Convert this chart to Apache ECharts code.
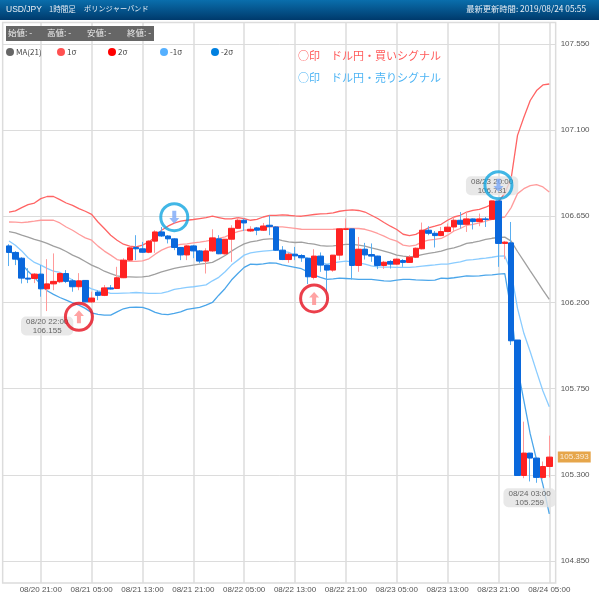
<!DOCTYPE html>
<html><head><meta charset="utf-8">
<style>html,body{margin:0;padding:0;background:#fff}#c{width:599px;height:595px}</style>
<script src="https://cdn.jsdelivr.net/npm/echarts@6/dist/echarts.min.js"></script>
</head><body><div id="c"></div>
<script>
const times=['08/20 16:00','08/20 17:00','08/20 18:00','08/20 19:00','08/20 20:00','08/20 21:00','08/20 22:00','08/20 23:00',
'08/21 00:00','08/21 01:00','08/21 02:00','08/21 03:00','08/21 04:00','08/21 05:00','08/21 06:00','08/21 07:00','08/21 08:00','08/21 09:00','08/21 10:00','08/21 11:00','08/21 12:00','08/21 13:00','08/21 14:00','08/21 15:00','08/21 16:00','08/21 17:00','08/21 18:00','08/21 19:00','08/21 20:00','08/21 21:00','08/21 22:00','08/21 23:00',
'08/22 00:00','08/22 01:00','08/22 02:00','08/22 03:00','08/22 04:00','08/22 05:00','08/22 06:00','08/22 07:00','08/22 08:00','08/22 09:00','08/22 10:00','08/22 11:00','08/22 12:00','08/22 13:00','08/22 14:00','08/22 15:00','08/22 16:00','08/22 17:00','08/22 18:00','08/22 19:00','08/22 20:00','08/22 21:00','08/22 22:00','08/22 23:00',
'08/23 00:00','08/23 01:00','08/23 02:00','08/23 03:00','08/23 04:00','08/23 05:00','08/23 06:00','08/23 07:00','08/23 08:00','08/23 09:00','08/23 10:00','08/23 11:00','08/23 12:00','08/23 13:00','08/23 14:00','08/23 15:00','08/23 16:00','08/23 17:00','08/23 18:00','08/23 19:00','08/23 20:00','08/23 21:00','08/23 22:00','08/23 23:00',
'08/24 00:00','08/24 01:00','08/24 02:00','08/24 03:00','08/24 04:00','08/24 05:00'];
const opens=[106.495,106.461,106.431,106.327,106.325,106.348,106.271,106.297,106.308,106.351,106.313,106.282,106.315,106.203,106.254,106.237,106.276,106.273,106.329,106.421,106.487,106.480,106.462,106.520,106.568,106.547,106.532,106.487,106.448,106.495,106.469,106.416,106.469,106.532,106.454,106.530,106.587,106.629,106.573,106.589,106.577,106.603,106.594,106.473,106.424,106.452,106.445,106.431,106.331,106.442,106.395,106.369,106.447,106.581,106.584,106.393,106.478,106.450,106.442,106.393,106.414,106.400,106.419,106.409,106.436,106.480,106.577,106.561,106.549,106.570,106.594,106.629,106.608,106.636,106.622,106.636,106.634,106.730,106.508,106.511,106.004,105.297,105.414,105.388,105.287,105.344];
const closes=[106.461,106.426,106.327,106.322,106.348,106.271,106.297,106.310,106.351,106.310,106.282,106.313,106.203,106.223,106.237,106.276,106.270,106.329,106.421,106.485,106.480,106.462,106.520,106.568,106.547,106.532,106.487,106.448,106.495,106.469,106.416,106.469,106.537,106.454,106.530,106.587,106.629,106.615,106.582,106.577,106.599,106.596,106.473,106.424,106.452,106.443,106.433,106.334,106.442,106.395,106.369,106.447,106.584,106.584,106.393,106.478,106.448,106.442,106.393,106.410,106.400,106.426,106.409,106.436,106.483,106.577,106.561,106.549,106.570,106.593,106.629,106.608,106.636,106.622,106.636,106.633,106.730,106.508,106.515,106.000,105.297,105.414,105.388,105.287,105.344,105.393];
const highs=[106.504,106.468,106.436,106.379,106.353,106.395,106.426,106.456,106.358,106.369,106.322,106.353,106.317,106.256,106.264,106.291,106.291,106.386,106.431,106.490,106.551,106.516,106.525,106.577,106.594,106.551,106.535,106.489,106.499,106.499,106.473,106.483,106.582,106.551,106.530,106.603,106.643,106.638,106.598,106.594,106.615,106.655,106.598,106.494,106.459,106.490,106.452,106.433,106.478,106.461,106.396,106.447,106.587,106.638,106.585,106.542,106.511,106.508,106.444,106.417,106.421,106.430,106.426,106.447,106.487,106.617,106.598,106.573,106.594,106.612,106.643,106.672,106.672,106.638,106.664,106.646,106.731,106.731,106.521,106.620,106.004,105.578,105.415,105.389,105.370,105.505];
const lows=[106.390,106.395,106.299,106.301,106.301,106.230,106.155,106.264,106.301,106.301,106.256,106.264,106.202,106.197,106.212,106.233,106.268,106.270,106.327,106.417,106.421,106.459,106.457,106.459,106.542,106.508,106.473,106.421,106.421,106.431,106.405,106.351,106.464,106.452,106.450,106.412,106.586,106.573,106.568,106.551,106.573,106.551,106.469,106.421,106.407,106.421,106.412,106.296,106.320,106.360,106.256,106.360,106.421,106.577,106.320,106.360,106.424,106.412,106.374,106.375,106.377,106.396,106.386,106.407,106.433,106.477,106.551,106.487,106.546,106.567,106.568,106.586,106.568,106.581,106.598,106.594,106.633,106.386,106.426,105.978,105.295,105.283,105.266,105.259,105.280,105.287];
const ma21=[106.570,106.563,106.551,106.541,106.529,106.520,106.508,106.494,106.482,106.466,106.447,106.433,106.414,106.395,106.381,106.363,106.351,106.339,106.334,106.334,106.332,106.334,106.337,106.348,106.360,106.369,106.378,106.384,106.390,106.395,106.400,106.404,106.409,106.426,106.445,106.468,106.488,106.506,106.516,106.521,106.529,106.532,106.532,106.523,106.516,106.513,106.515,106.508,106.504,106.497,106.494,106.495,106.499,106.503,106.503,106.499,106.494,106.485,106.477,106.468,106.459,106.447,106.442,106.438,106.442,106.450,106.456,106.461,106.468,106.478,106.485,106.495,106.508,106.513,106.520,106.529,106.535,106.539,106.541,106.520,106.466,106.416,106.365,106.315,106.264,106.216];
const plus1=[106.620,106.619,106.617,106.620,106.624,106.629,106.629,106.629,106.615,106.594,106.577,106.556,106.537,106.525,106.494,106.468,106.447,106.424,106.417,106.414,106.414,106.417,106.428,106.452,106.473,106.487,106.495,106.503,106.506,106.511,106.515,106.520,106.527,106.534,106.542,106.558,106.570,106.577,106.577,106.582,106.591,106.594,106.594,106.594,106.591,106.587,106.582,106.581,106.581,106.581,106.581,106.582,106.584,106.586,106.586,106.586,106.582,106.572,106.560,106.546,106.530,106.520,106.499,106.494,106.499,106.516,106.525,106.529,106.534,106.551,106.573,106.586,106.603,106.608,106.615,106.624,106.634,106.640,106.646,106.695,106.768,106.794,106.810,106.815,106.803,106.777];
const plus2=[106.672,106.678,106.695,106.711,106.719,106.742,106.753,106.753,106.737,106.719,106.707,106.690,106.676,106.660,106.620,106.586,106.551,106.525,106.504,106.494,106.490,106.499,106.516,106.542,106.577,106.598,106.614,106.624,106.629,106.633,106.638,106.643,106.650,106.643,106.636,106.636,106.643,106.638,106.629,106.634,106.646,106.654,106.654,106.657,106.655,106.652,106.650,106.655,106.659,106.662,106.664,106.667,106.676,106.681,106.683,106.680,106.672,106.655,106.638,106.617,106.598,106.581,106.556,106.549,106.555,106.573,106.589,106.598,106.608,106.629,106.646,106.655,106.672,106.681,106.686,106.697,106.713,106.725,106.770,106.848,107.072,107.167,107.254,107.306,107.335,107.340];
const minus1=[106.521,106.499,106.469,106.433,106.409,106.395,106.378,106.363,106.357,106.337,106.317,106.302,106.287,106.271,106.261,106.256,106.247,106.247,106.249,106.250,106.252,106.250,106.247,106.247,106.249,106.256,106.268,106.273,106.279,106.282,106.287,106.292,106.313,106.331,106.360,106.395,106.421,106.447,106.459,106.464,106.468,106.471,106.473,106.468,106.461,106.447,106.443,106.430,106.417,106.409,106.400,106.407,106.412,106.416,106.412,106.407,106.400,106.391,106.386,106.384,106.384,106.383,106.383,106.383,106.386,106.390,106.393,106.396,106.400,106.400,106.407,106.412,106.421,106.424,106.428,106.431,106.436,106.442,106.443,106.360,106.169,106.039,105.943,105.839,105.738,105.656];
const minus2=[106.477,106.438,106.400,106.363,106.331,106.294,106.261,106.242,106.226,106.212,106.198,106.186,106.169,106.146,106.138,106.134,106.134,106.151,106.167,106.174,106.176,106.174,106.164,106.148,106.139,106.136,106.143,106.151,106.164,106.169,106.174,106.186,106.200,106.238,106.273,106.317,106.351,106.383,106.400,106.398,106.401,106.407,106.405,106.396,106.390,106.383,106.376,106.360,106.343,106.331,106.320,106.323,106.327,106.325,106.323,106.320,106.320,106.320,106.317,106.313,106.311,106.317,106.320,106.320,106.318,106.317,106.315,106.317,106.327,106.325,106.329,106.334,106.339,106.337,106.339,106.343,106.344,106.348,106.351,106.160,105.860,105.688,105.514,105.379,105.248,105.097];
const yTicks=[104.85,105.3,105.75,106.2,106.65,107.1,107.55];
const buySignals=[['08/21 03:00',106.125],['08/22 16:00',106.221]];
const sellSignals=[['08/21 18:00',106.645],['08/23 21:00',106.812]];
const lowNotes=[['08/20 22:00',106.155],['08/24 03:00',105.259]];
const highNotes=[['08/23 20:00',106.731]];
const lastTime='08/24 05:00', lastPrice=105.393;

const NUM='"Liberation Sans",sans-serif';
const JP='"Noto Sans CJK JP",sans-serif';
const cats=['',...times,''];
const pad=a=>['-',...a,'-'];
const lineS=(name,data,color)=>({name,type:'line',data:pad(data),showSymbol:false,symbol:'none',silent:true,
  lineStyle:{color,width:1.3},itemStyle:{color},z:2});
const wick=times.map((t,i)=>[opens[i],closes[i],lows[i],highs[i]]);
const body=times.map((t,i)=>[opens[i],closes[i],Math.min(opens[i],closes[i]),Math.max(opens[i],closes[i])]);
const padC=a=>[['-','-','-','-'],...a,['-','-','-','-']];
const legendAt=(name,left,color)=>({show:true,data:[{name,icon:'circle',itemStyle:{color}}],left,top:48,itemWidth:8,itemHeight:8,itemGap:0,
  selectedMode:false,padding:0,textStyle:{fontFamily:JP,fontSize:8,color:'#444',padding:[0,0,0,-3]}});
const noteLabel=(pos,offset)=>({show:true,position:pos,distance:5,offset,fontFamily:NUM,fontSize:8,lineHeight:9,color:'#444',
  backgroundColor:'#e2e2e2',borderRadius:5,padding:[1,5,0,5],align:'center',
  formatter:p=>p.data[0]+'\n'+p.data[1].toFixed(3)});
const chart=echarts.init(document.getElementById('c'),null,{renderer:'canvas'});
chart.setOption({
  animation:false,backgroundColor:'#fff',
  grid:{left:2.65,top:22.5,width:553,height:560.5,show:true,borderColor:'#dcdcdc',borderWidth:1.5,backgroundColor:'#fff'},
  legend:[legendAt('MA(21)',6,'#666'),legendAt('1σ',57,'#ff5050'),legendAt('2σ',108,'#ff0000'),legendAt('-1σ',160,'#55b0ff'),legendAt('-2σ',211,'#0080e0')],
  xAxis:{type:'category',data:cats,boundaryGap:false,
    axisLine:{show:false},axisTick:{show:false},
    axisLabel:{interval:(i)=>i%8===6,fontFamily:NUM,fontSize:8,color:'#555',margin:3},
    splitLine:{show:true,interval:(i)=>i%8===6,lineStyle:{color:'#dcdcdc',width:1.5}}},
  yAxis:{type:'value',position:'right',min:104.736,max:107.661,scale:true,
    axisLine:{show:false},axisTick:{show:false,customValues:yTicks},
    axisLabel:{customValues:yTicks,formatter:v=>v.toFixed(3),fontFamily:NUM,fontSize:8,color:'#555',margin:5,align:'left'},
    splitLine:{show:true,lineStyle:{color:'#dcdcdc',width:1}}},
  series:[
    lineS('MA(21)',ma21,'#a0a0a0'),lineS('1σ',plus1,'#ff9c9c'),lineS('2σ',plus2,'#ff6464'),lineS('-1σ',minus1,'#8accff'),lineS('-2σ',minus2,'#4ba6ea'),
    {type:'candlestick',data:padC(wick),barWidth:1,silent:true,z:3,itemStyle:{color:'#ff9a9a',color0:'#5aaef0',borderColor:'#ff9a9a',borderColor0:'#5aaef0',borderWidth:1}},
    {type:'candlestick',data:padC(body),barWidth:6,silent:true,z:4,itemStyle:{color:'#ff2222',color0:'#0a68dc',borderColor:'#ff2222',borderColor0:'#0a68dc',borderWidth:1}},
    {type:'scatter',data:lowNotes.slice(0,1),symbolSize:1,itemStyle:{color:'transparent'},z:5,label:noteLabel('bottom',[0,0])},
    {type:'scatter',data:lowNotes.slice(1),symbolSize:1,itemStyle:{color:'transparent'},z:5,label:noteLabel('bottom',[-7,0])},
    {type:'scatter',data:highNotes,symbolSize:1,itemStyle:{color:'transparent'},z:5,label:noteLabel('top',[0,0])},
    {type:'scatter',data:[[lastTime,lastPrice]],symbolSize:1,itemStyle:{color:'transparent'},z:5,
      label:{show:true,position:'right',distance:0,offset:[8,0],formatter:p=>p.data[1].toFixed(3),fontFamily:NUM,fontSize:8,color:'#fff',backgroundColor:'#e0901e',padding:[2,2,1,2],align:'left'}},
    {type:'scatter',data:buySignals,symbol:'path://M5 0L10 6L7 6L7 14L3 14L3 6L0 6Z',symbolSize:[10,13],itemStyle:{color:'#ff8c8c'},z:6,silent:true},
    {type:'scatter',data:sellSignals,symbol:'path://M3 0L7 0L7 8L10 8L5 14L0 8L3 8Z',symbolSize:[10,13],itemStyle:{color:'#7aa8f8'},z:6,silent:true},
    {type:'scatter',data:buySignals,symbol:'circle',symbolSize:27,itemStyle:{color:'transparent',borderColor:'#e60f1e',borderWidth:3},z:7,silent:true},
    {type:'scatter',data:sellSignals,symbol:'circle',symbolSize:27,itemStyle:{color:'transparent',borderColor:'#12a5e0',borderWidth:3},z:7,silent:true}
  ],
  graphic:[
    {type:'rect',left:0,top:0,shape:{width:599,height:20},z:10,style:{fill:new echarts.graphic.LinearGradient(0,0,0,1,[{offset:0,color:'#0a6eac'},{offset:1,color:'#003a6c'}])}},
    {type:'text',left:6,top:5,z:11,style:{text:'USD/JPY',fill:'#e8eef4',font:'8.5px '+NUM}},
    {type:'text',left:49,top:5,z:11,style:{text:'1時間足',fill:'#e8eef4',font:'7.5px '+JP}},
    {type:'text',left:84,top:5,z:11,style:{text:'ボリンジャーバンド',fill:'#e8eef4',font:'7.2px '+JP}},
    {type:'text',right:13,top:5,z:11,style:{text:'最新更新時間: 2019/08/24 05:55',fill:'#e8eef4',font:'8.3px '+JP}},
    {type:'rect',left:6,top:26,shape:{width:148,height:15},z:10,style:{fill:'#666'}},
    {type:'text',left:8,top:29,z:11,style:{text:'始値: -',fill:'#eee',font:'8.5px '+JP}},
    {type:'text',left:47,top:29,z:11,style:{text:'高値: -',fill:'#eee',font:'8.5px '+JP}},
    {type:'text',left:87,top:29,z:11,style:{text:'安値: -',fill:'#eee',font:'8.5px '+JP}},
    {type:'text',left:127,top:29,z:11,style:{text:'終値: -',fill:'#eee',font:'8.5px '+JP}},
    {type:'text',left:298,top:50,z:11,style:{text:'○印',fill:'#ff5a5a',font:'11px '+JP}},
    {type:'text',left:331,top:50,z:11,style:{text:'ドル円・買いシグナル',fill:'#ff5a5a',font:'11px '+JP}},
    {type:'text',left:298,top:72,z:11,style:{text:'○印',fill:'#4db4f4',font:'11px '+JP}},
    {type:'text',left:331,top:72,z:11,style:{text:'ドル円・売りシグナル',fill:'#4db4f4',font:'11px '+JP}}
  ]
});
</script></body></html>
